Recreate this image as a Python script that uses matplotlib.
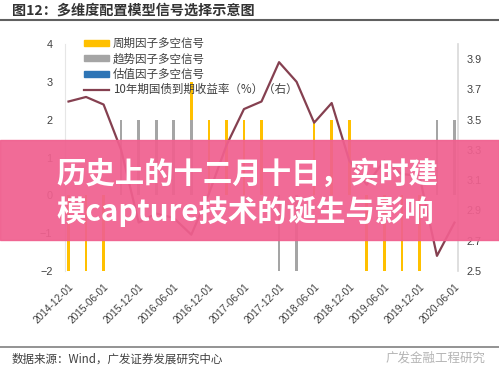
import numpy as np
import matplotlib
matplotlib.use("Agg")
import matplotlib.pyplot as plt
from matplotlib.patches import Rectangle
from matplotlib.lines import Line2D

plt.rcParams['font.family'] = ['Liberation Sans', 'Noto Sans CJK SC', 'DejaVu Sans']
CJK = ['Noto Sans CJK SC', 'DejaVu Sans']

# quarterly dates
dates = ["2014-12-01", "2015-03-01", "2015-06-01", "2015-09-01", "2015-12-01",
         "2016-03-01", "2016-06-01", "2016-09-01", "2016-12-01", "2017-03-01",
         "2017-06-01", "2017-09-01", "2017-12-01", "2018-03-01", "2018-06-01",
         "2018-09-01", "2018-12-01", "2019-03-01", "2019-06-01", "2019-09-01",
         "2019-12-01", "2020-03-01", "2020-06-01"]

cycle_sig = [-2, -2, -2, 0, 0, 0, 0, 3, 2, 2, 2, 2, 0, 0, 2, 2, 2, -2, -2, -2, -2, 0, 0]
trend_sig = [0, 0, 0, 2, 2, 2, 2, 2, 0, 0, 0, 0, -2, -2, 0, 0, 0, 0, 0, 0, 0, 2, 2]
value_sig = [0] * 23
yield_10y = [3.62, 3.65, 3.60, 3.30, 2.82, 2.88, 2.85, 2.74, 3.01, 3.33, 3.57, 3.62,
             3.88, 3.75, 3.48, 3.61, 3.23, 3.07, 3.23, 3.14, 3.13, 2.60, 2.82]

labels = ["周期因子多空信号", "趋势因子多空信号", "估值因子多空信号", "10年期国债到期收益率（%）（右）"]
colors = ["#FFC000", "#A5A5A5", "#2E75B6", "#854050"]

fig = plt.figure(figsize=(4.99, 3.81), dpi=100)
ax = fig.add_axes([65 / 499, 1 - 271 / 381, (458 - 65) / 499, (271 - 44) / 381])
ax2 = ax.twinx()

x = np.arange(len(dates))
w = 0.15
# overlapping columns, first series behind
ax.bar(x, cycle_sig, width=w, color=colors[0], zorder=2)
ax.bar(x, trend_sig, width=w, color=colors[1], zorder=3)
ax.bar(x, value_sig, width=w, color=colors[2], zorder=4)
ax2.plot(x, yield_10y, color=colors[3], lw=1.6, zorder=5)

ax.set_xlim(-0.2, len(dates) - 0.8)
ax.set_ylim(-2, 4)
ax.set_yticks([-2, -1, 0, 1, 2, 3, 4])
ax2.set_ylim(2.5, 4.0)
ax2.set_yticks([2.5, 2.7, 2.9, 3.1, 3.3, 3.5, 3.7, 3.9])
ax2.set_yticklabels(["2.5", "2.7", "2.9", "3.1", "3.3", "3.5", "3.7", "3.9"])

ax.set_xticks(x[::2])
ax.set_xticklabels(dates[::2], rotation=45, ha='right', va='top', rotation_mode='anchor')

for a in (ax, ax2):
    a.tick_params(length=0, labelsize=7.8, colors="#404040")
    for s in a.spines.values():
        s.set_visible(False)
ax.tick_params(axis='x', pad=8, labelsize=7.3)
ax.tick_params(axis='y', pad=9)
ax2.tick_params(axis='y', pad=6)
ax.spines['left'].set_visible(True)
ax.spines['left'].set_color("#E6E6E6")
ax2.spines['right'].set_visible(True)
ax2.spines['right'].set_color("#D9D9D9")
ax2.spines['right'].set_linewidth(1.2)

handles = [Rectangle((0, 0), 1, 1, color=colors[0]),
           Rectangle((0, 0), 1, 1, color=colors[1]),
           Rectangle((0, 0), 1, 1, color=colors[2]),
           Line2D([], [], color=colors[3], lw=1.6)]
leg = fig.legend(handles, labels, loc='upper left', bbox_to_anchor=(78 / 499, 1 - 31 / 381),
                 frameon=False, prop={'family': CJK, 'size': 8.3}, handlelength=2.2,
                 handleheight=0.45, handletextpad=0.3, labelspacing=0.22, borderpad=0)
for t in leg.get_texts():
    t.set_color("#404040")

# title and frame lines
fig.text(12 / 499, 1 - 11 / 381, "图12：多维度配置模型信号选择示意图", family=CJK,
         fontsize=10.2, weight='bold', color="#333333", va='center', ha='left')
fig.add_artist(Line2D([0, 1], [1 - 20 / 381, 1 - 20 / 381], color="#606060", lw=1.5))
fig.add_artist(Line2D([0, 1], [1 - 347 / 381, 1 - 347 / 381], color="#808080", lw=1.2))
fig.text(12 / 499, 1 - 359 / 381, "数据来源：Wind，广发证券发展研究中心", family=CJK,
         fontsize=8.3, color="#404040", va='center', ha='left')
fig.text(486 / 499, 1 - 358 / 381, "广发金融工程研究", family=CJK,
         fontsize=9, color="#B5B5B5", va='center', ha='right')

# pink banner overlay
fig.add_artist(Rectangle((0, 1 - 240 / 381), 1, 100 / 381, transform=fig.transFigure,
                         color="#F0608F", alpha=0.93, zorder=10))
fig.text(56 / 499, 1 - 174 / 381, "历史上的十二月十日，实时建", family=CJK,
         fontsize=21.2, weight='bold', color="white", va='center', ha='left', zorder=11)
fig.text(56 / 499, 1 - 211 / 381, "模capture技术的诞生与影响", family=CJK,
         fontsize=21.2, weight='bold', color="white", va='center', ha='left', zorder=11)

fig.savefig("out.png", dpi=100)
